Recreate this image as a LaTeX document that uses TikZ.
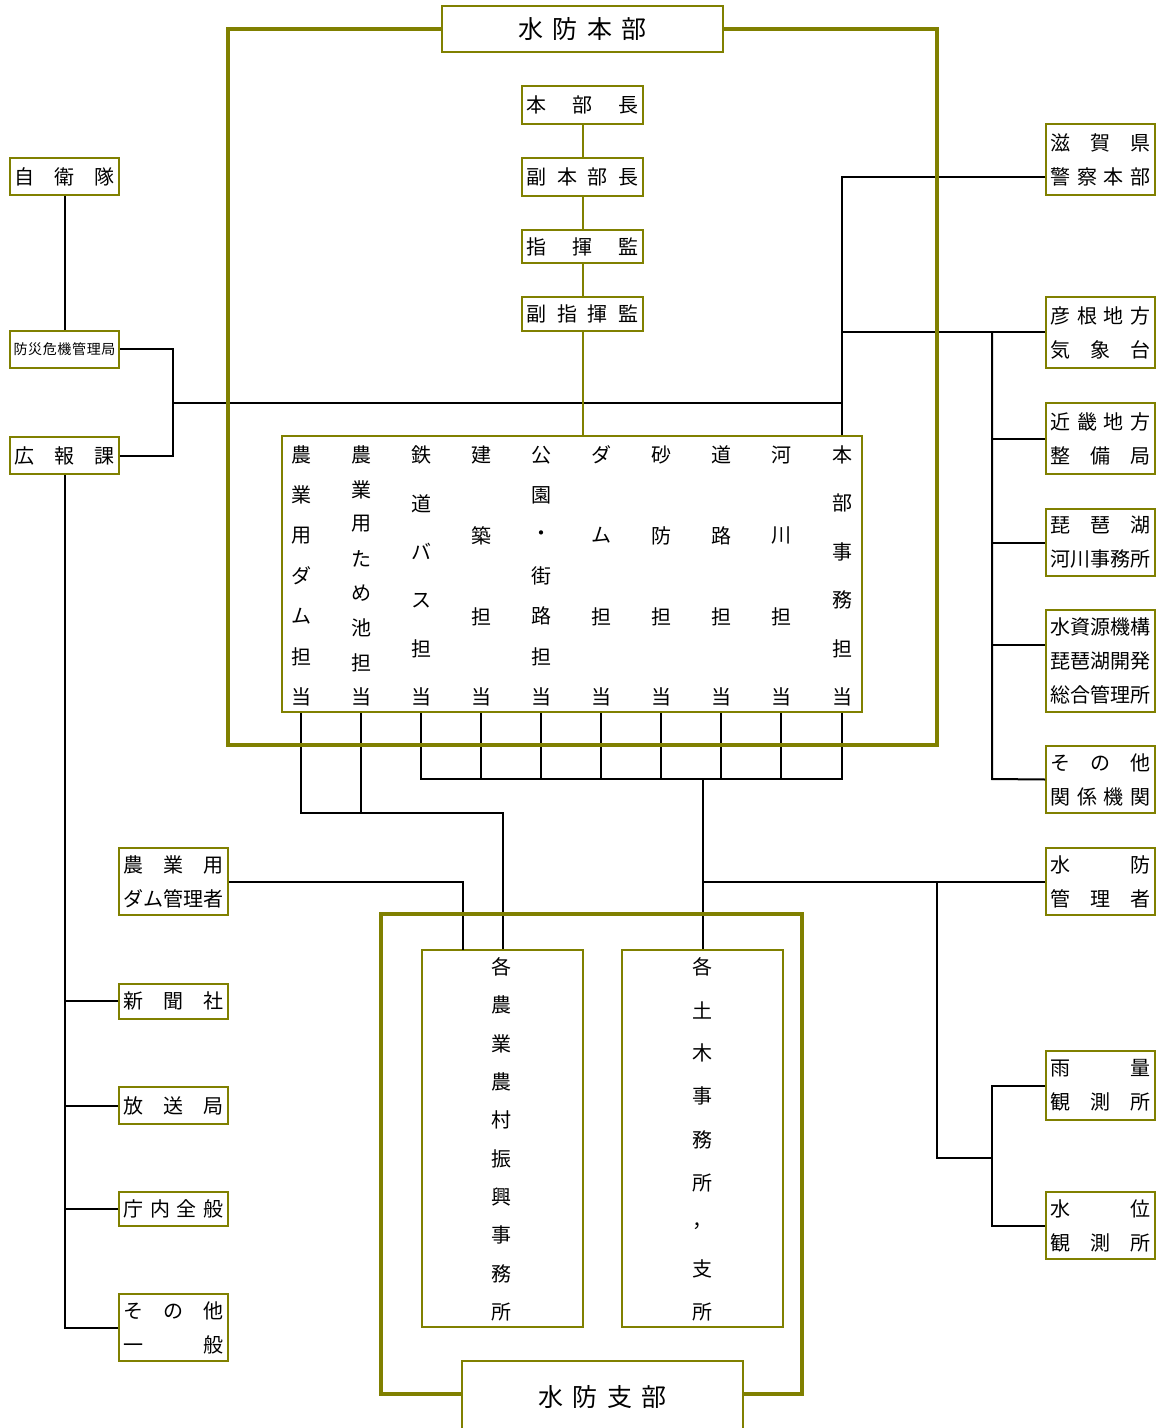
\documentclass[tikz,border=0pt]{standalone}
\usepackage{fontspec}
\newfontfamily\jp{Noto Sans CJK JP}
\definecolor{olivec}{RGB}{128,128,0}
\newcommand{\jl}[1]{\makebox[50pt][s]{#1}}
\newcommand{\jc}[1]{\makebox[56pt][s]{#1}}
% column of characters spread from y top to y bottom
\newcommand{\vtext}[6]{%
  \foreach \ch [count=\i] in {#6}
    \node[vchar] (#1\i) at (#2,{#3+(\i-1)*(#4-#3)/(#5-1)}) {\ch};}

\begin{document}
\begin{tikzpicture}[x=0.5pt,y=-0.5pt,
  box/.style={draw=olivec, line width=1pt, fill=white, inner sep=0pt, align=center, font=\jp\fontsize{10pt}{17pt}\selectfont},
  sbox/.style={box, minimum width=54.5pt},
  cbox/.style={box, minimum width=60.5pt},
  titlebox/.style={box, minimum width=140.5pt, font=\jp\fontsize{12.5pt}{12.5pt}\selectfont},
  vchar/.style={inner sep=0pt, font=\jp\fontsize{10pt}{10pt}\selectfont},
  link/.style={draw=black, line width=1pt},
  chain/.style={draw=olivec, line width=1pt},
  frame/.style={draw=olivec, line width=1.8pt}]
\useasboundingbox (0,0) rectangle (1160,1428);

% headquarters
\node[titlebox, minimum height=23pt] (honbu) at (582.5,29) {\makebox[64pt][s]{水\hfill 防\hfill 本\hfill 部}};
\node[cbox, minimum height=19pt] (bucho) at (582.5,105) {\jc{本\hfill 部\hfill 長}};
\node[cbox, minimum height=19pt] (fukubucho) at (582.5,177) {\jc{副\hfill 本\hfill 部\hfill 長}};
\node[cbox, minimum height=16.5pt] (shiki) at (582.5,246.5) {\jc{指\hfill 揮\hfill 監}};
\node[cbox, minimum height=17pt] (fukushiki) at (582.5,314) {\jc{副\hfill 指\hfill 揮\hfill 監}};

\node[box, minimum width=290pt, minimum height=138pt] (tanto) at (572,574) {};
\vtext{a}{301}{455}{697}{7}{農,業,用,ダ,ム,担,当}
\vtext{b}{361}{455}{697}{8}{農,業,用,た,め,池,担,当}
\vtext{c}{421}{455}{697}{6}{鉄,道,バ,ス,担,当}
\vtext{d}{481}{455}{697}{4}{建,築,担,当}
\vtext{e}{541}{455}{697}{7}{公,園,・,街,路,担,当}
\vtext{f}{601}{455}{697}{4}{ダ,ム,担,当}
\vtext{g}{661}{455}{697}{4}{砂,防,担,当}
\vtext{h}{721}{455}{697}{4}{道,路,担,当}
\vtext{i}{781}{455}{697}{4}{河,川,担,当}
\vtext{j}{842}{455}{697}{6}{本,部,事,務,担,当}

% left side
\node[sbox, minimum height=18.5pt] (jieitai) at (64.5,176.5) {\jl{自\hfill 衛\hfill 隊}};
\node[sbox, minimum height=18.5pt] (bousai) at (64.5,349.5) {\makebox[51pt][s]{\fontsize{7pt}{7pt}\selectfont 防\hfill 災\hfill 危\hfill 機\hfill 管\hfill 理\hfill 局}};
\node[sbox, minimum height=18.5pt] (koho) at (64.5,455.5) {\jl{広\hfill 報\hfill 課}};
\node[sbox, minimum height=33.5pt] (damkanri) at (173.5,881.5) {\jl{農\hfill 業\hfill 用}\\\jl{ダ\hfill ム\hfill 管\hfill 理\hfill 者}};
\node[sbox, minimum height=17.5pt] (shinbun) at (173.5,1001) {\jl{新\hfill 聞\hfill 社}};
\node[sbox, minimum height=18.5pt] (hoso) at (173.5,1105.5) {\jl{放\hfill 送\hfill 局}};
\node[sbox, minimum height=17pt] (chonai) at (173.5,1209) {\jl{庁\hfill 内\hfill 全\hfill 般}};
\node[sbox, minimum height=33.5pt] (ippan) at (173.5,1327.5) {\jl{そ\hfill の\hfill 他}\\\jl{一\hfill 般}};

% right side
\node[sbox, minimum height=35.5pt] (police) at (1100.5,159.5) {\jl{滋\hfill 賀\hfill 県}\\\jl{警\hfill 察\hfill 本\hfill 部}};
\node[sbox, minimum height=35.5pt] (hikone) at (1100.5,332.5) {\jl{彦\hfill 根\hfill 地\hfill 方}\\\jl{気\hfill 象\hfill 台}};
\node[sbox, minimum height=35.5pt] (kinki) at (1100.5,438.5) {\jl{近\hfill 畿\hfill 地\hfill 方}\\\jl{整\hfill 備\hfill 局}};
\node[sbox, minimum height=33.5pt] (biwako) at (1100.5,542.5) {\jl{琵\hfill 琶\hfill 湖}\\\jl{河\hfill 川\hfill 事\hfill 務\hfill 所}};
\node[sbox, minimum height=51pt] (mizu) at (1100.5,661) {\jl{水\hfill 資\hfill 源\hfill 機\hfill 構}\\\jl{琵\hfill 琶\hfill 湖\hfill 開\hfill 発}\\\jl{総\hfill 合\hfill 管\hfill 理\hfill 所}};
\node[sbox, minimum height=33.5pt] (kikan) at (1100.5,779.5) {\jl{そ\hfill の\hfill 他}\\\jl{関\hfill 係\hfill 機\hfill 関}};
\node[sbox, minimum height=33.5pt] (suibo) at (1100.5,881.5) {\jl{水\hfill 防}\\\jl{管\hfill 理\hfill 者}};
\node[sbox, minimum height=34.5pt] (uryo) at (1100.5,1085.5) {\jl{雨\hfill 量}\\\jl{観\hfill 測\hfill 所}};
\node[sbox, minimum height=33.5pt] (suii) at (1100.5,1225.5) {\jl{水\hfill 位}\\\jl{観\hfill 測\hfill 所}};

% branch
\node[box, minimum width=80.5pt, minimum height=188.5pt] (nouson) at (502.5,1138.5) {};
\vtext{k}{501}{967}{1312}{10}{各,農,業,農,村,振,興,事,務,所}
\node[box, minimum width=80.5pt, minimum height=188.5pt] (doboku) at (702.5,1138.5) {};
\vtext{m}{702}{967}{1312}{9}{各,土,木,事,務,所,，,支,所}
\node[titlebox, minimum height=36pt] (shibu) at (602.5,1397) {\makebox[64pt][s]{水\hfill 防\hfill 支\hfill 部}};

\coordinate (lk) at (173,403);
\coordinate (pk) at (842,177);
\coordinate (rg) at (992,779);
\coordinate (mz) at (992,645);
\coordinate (agr) at (502.5,813);
\coordinate (civ) at (702.5,779);
\coordinate (dk) at (463,950);
\coordinate (ob) at (937,1158);
\coordinate (obr) at (992,1158);
\coordinate (fl) at (228,745);
\coordinate (fr) at (937,745);
\coordinate (sl) at (381,914);
\coordinate (sr) at (802,914);
\coordinate (sb) at (0,1394);

% black connectors
\draw[link] (jieitai) -- (bousai);
\draw[link] (bousai.east) -| (lk) |- (koho.east);
\draw[link] (lk) -- (j1 |- lk);
\draw[link] (j1 |- tanto.north) -- (pk) -- (pk -| police.west);
\draw[link] (j1 |- hikone.west) -- (hikone.west);
\draw[link] (rg |- hikone.west) -- (rg) -- (kikan.west);
\draw[link] (rg |- kinki.west) -- (kinki.west);
\draw[link] (rg |- biwako.west) -- (biwako.west);
\draw[link] (mz) -- (mz -| mizu.west);
\draw[link] (koho.south) |- (ippan.west);
\foreach \n in {shinbun,hoso,chonai}
  \draw[link] (koho.south |- \n.west) -- (\n.west);
\draw[link] (a7 |- tanto.south) |- (agr) -- (nouson.north);
\draw[link] (b8 |- tanto.south) -- (b8 |- agr);
\draw[link] (c6 |- tanto.south) |- (j6 |- civ) -- (j6 |- tanto.south);
\foreach \c in {d4,e7,f4,g4,h4,i4}
  \draw[link] (\c |- tanto.south) -- (\c |- civ);
\draw[link] (civ) -- (doboku.north);
\draw[link] (damkanri.east) -| (dk);
\draw[link] (suibo.west) -- (civ |- suibo.west);
\draw[link] (ob |- suibo.west) -- (ob) -- (obr);
\draw[link] (uryo.west) -| (obr) |- (suii.west);

% olive chain and frames
\draw[chain] (bucho) -- (fukubucho);
\draw[chain] (fukubucho) -- (shiki);
\draw[chain] (shiki) -- (fukushiki);
\draw[chain] (fukushiki.south) -- (fukushiki.south |- tanto.north);
\draw[frame] (honbu.west) -| (fl) -- (fr) |- (honbu.east);
\draw[frame] (shibu.west |- sb) -| (sl) -- (sr) |- (shibu.east |- sb);
\end{tikzpicture}
\end{document}
